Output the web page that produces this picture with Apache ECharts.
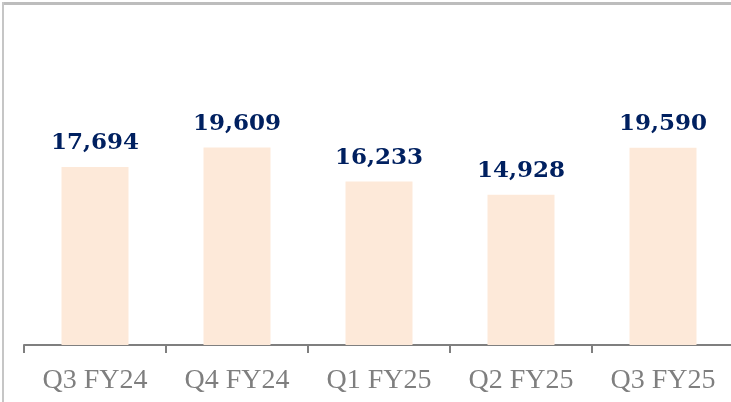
<!DOCTYPE html>
<html>
<head>
<meta charset="utf-8">
<script src="https://cdn.jsdelivr.net/npm/echarts@6/dist/echarts.min.js"></script>
<style>
  html, body { margin: 0; padding: 0; background: #fff; overflow: hidden; }
  #chart { width: 731px; height: 402px; }
</style>
</head>
<body>
<div id="chart"></div>
<script>
const quarters = ['Q3 FY24', 'Q4 FY24', 'Q1 FY25', 'Q2 FY25', 'Q3 FY25']
const values = [17694, 19609, 16233, 14928, 19590]

const chart = echarts.init(document.getElementById('chart'))

chart.setOption({
  animation: false,
  // slide frame: top and left edges only
  graphic: [
    { type: 'rect', left: 2, top: 2, shape: { width: 729, height: 3 }, style: { fill: '#bdbdbd' }, silent: true },
    { type: 'rect', left: 2, top: 2, shape: { width: 2, height: 400 }, style: { fill: '#c6c6c6' }, silent: true }
  ],
  grid: { left: 24, width: 710, top: 43, bottom: 57, outerBoundsMode: 'none' },
  xAxis: {
    type: 'category', data: quarters,
    axisLine: { lineStyle: { color: '#7f7f7f', width: 2 } },
    axisTick: { show: true, length: 8, lineStyle: { color: '#7f7f7f', width: 2 } },
    splitLine: { show: false },
    axisLabel: {
      color: '#7f7f7f', fontFamily: 'Liberation Serif', fontSize: 28,
      margin: 22, interval: 0
    }
  },
  yAxis: { type: 'value', min: 0, max: 30000, show: false, splitLine: { show: false } },
  series: [{
    type: 'bar', data: values, barWidth: 67,
    itemStyle: { color: '#fde9d9' },
    label: {
      show: true, position: 'top', distance: 12,
      color: '#002060', fontFamily: 'DejaVu Serif', fontWeight: 'bold', fontSize: 23,
      formatter: p => p.value.toLocaleString('en-US')
    }
  }]
})
</script>
</body>
</html>
